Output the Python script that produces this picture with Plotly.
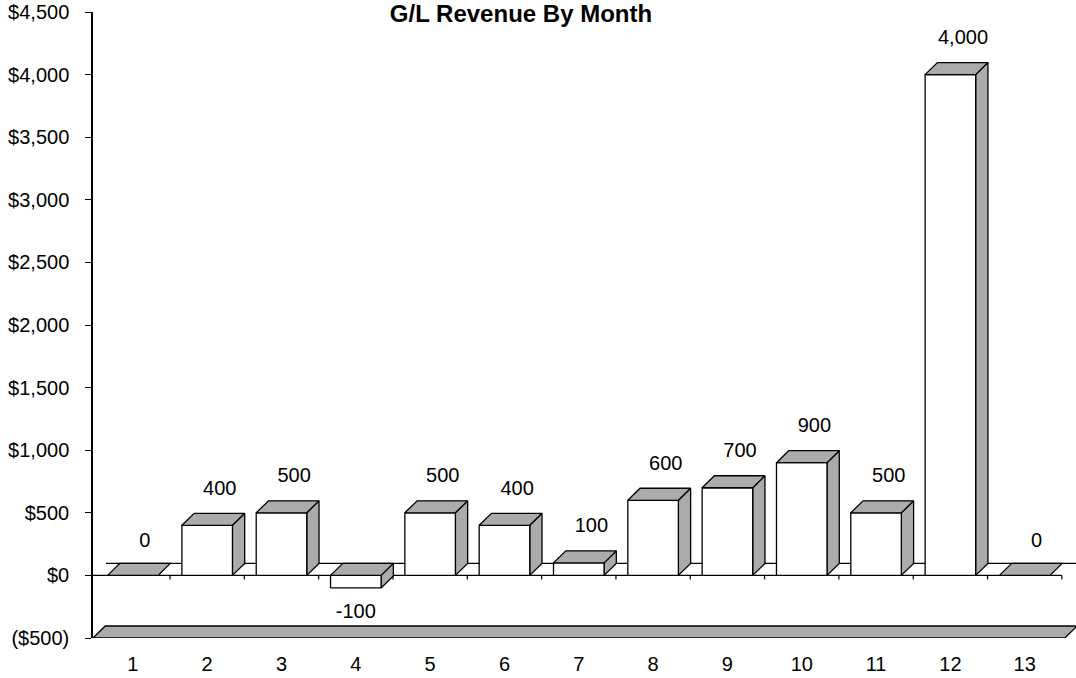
import plotly.graph_objects as go

# ---- data ----
months = [1, 2, 3, 4, 5, 6, 7, 8, 9, 10, 11, 12, 13]
revenue = [0, 400, 500, -100, 500, 400, 100, 600, 700, 900, 500, 4000, 0]
value_labels = ["0", "400", "500", "-100", "500", "400", "100", "600", "700", "900", "500", "4,000", "0"]
y_tickvals = [-500, 0, 500, 1000, 1500, 2000, 2500, 3000, 3500, 4000, 4500]
y_ticktext = ["($500)", "$0", "$500", "$1,000", "$1,500", "$2,000", "$2,500",
              "$3,000", "$3,500", "$4,000", "$4,500"]
x_ticktext = [str(m) for m in months]
title_text = "G/L Revenue By Month"

# ---- style / geometry ----
FONT = "Liberation Sans, Arial, sans-serif"
GRAY = "#ababab"
BW = 0.68        # bar width (category units)
DX = 0.165       # 3D depth offset in x (category units)
DY = 96          # 3D depth offset in y (value units)
YMIN, YMAX = -500, 4500
XMIN, XMAX = 0.464, 13.69
W, H = 1076, 678

fig = go.Figure()


def poly(xs, ys, fill):
    fig.add_trace(go.Scatter(
        x=xs + [xs[0]], y=ys + [ys[0]], mode="lines", fill="toself",
        fillcolor=fill, line=dict(color="black", width=1.3),
        hoverinfo="skip", showlegend=False))


# bottom floor at the axis minimum
first, last = months[0] - 0.536, months[-1] + 0.54
poly([first, last, last + DX, first + DX], [YMIN, YMIN, YMIN + DY, YMIN + DY], GRAY)

# zero plane edges (back and front)
fig.add_trace(go.Scatter(x=[first + DX + 0.01, last + DX + 0.2], y=[DY, DY], mode="lines",
                         line=dict(color="black", width=1.3), hoverinfo="skip", showlegend=False))
fig.add_trace(go.Scatter(x=[first, months[-1] + 0.5], y=[0, 0], mode="lines",
                         line=dict(color="black", width=1.3), hoverinfo="skip", showlegend=False))

# category boundary tick marks on the zero line
tx, ty = [], []
for m in months:
    b = m + 0.5
    tx += [b, b, None]
    ty += [0, -32, None]
fig.add_trace(go.Scatter(x=tx, y=ty, mode="lines", line=dict(color="black", width=1.2),
                         hoverinfo="skip", showlegend=False))

# 3D bars
for m, v in zip(months, revenue):
    lo, hi = min(0, v), max(0, v)
    x0, x1 = m - BW / 2, m + BW / 2
    if v != 0:
        poly([x1, x1 + DX, x1 + DX, x1], [lo, lo + DY, hi + DY, hi], GRAY)   # side
        poly([x0, x1, x1, x0], [lo, lo, hi, hi], "white")                     # front
    poly([x0, x1, x1 + DX, x0 + DX], [hi, hi, hi + DY, hi + DY], GRAY)       # top

# value labels
lx, ly = [], []
for m, v in zip(months, revenue):
    if v > 0:
        lx.append(m + 0.17); ly.append(v + 285)
    elif v == 0:
        lx.append(m + 0.16); ly.append(265)
    else:
        lx.append(m); ly.append(v - 200)
fig.add_trace(go.Scatter(x=lx, y=ly, mode="text", text=value_labels,
                         textposition="middle center",
                         textfont=dict(family=FONT, size=20, color="black"),
                         hoverinfo="skip", showlegend=False, cliponaxis=False))

fig.update_layout(
    width=W, height=H,
    margin=dict(l=93, r=0, t=12, b=40, autoexpand=False),
    paper_bgcolor="white", plot_bgcolor="white",
    showlegend=False,
    title=dict(text="<b>" + title_text + "</b>", x=521 / W, xanchor="center",
               y=1 - 14 / H, yanchor="middle", yref="container", xref="container",
               automargin=False,
               font=dict(family=FONT, size=24, color="black")),
    xaxis=dict(range=[XMIN, XMAX], showgrid=False, zeroline=False, showline=False,
               tickvals=months, ticktext=x_ticktext, ticks="",
               ticklabelstandoff=12, automargin=False,
               tickfont=dict(family=FONT, size=20, color="black"), fixedrange=True),
    yaxis=dict(range=[YMIN, YMAX], showgrid=False, zeroline=False, showline=True,
               linecolor="black", linewidth=1.5, ticks="outside", ticklen=6,
               tickcolor="black", tickwidth=1.2, automargin=False,
               ticklabelstandoff=12, ticklabeloverflow="allow",
               tickvals=y_tickvals, ticktext=y_ticktext,
               tickfont=dict(family=FONT, size=20, color="black"), fixedrange=True),
)

fig.write_html("out.html", config={"displayModeBar": False},
               post_script="document.body.style.margin='0';")
